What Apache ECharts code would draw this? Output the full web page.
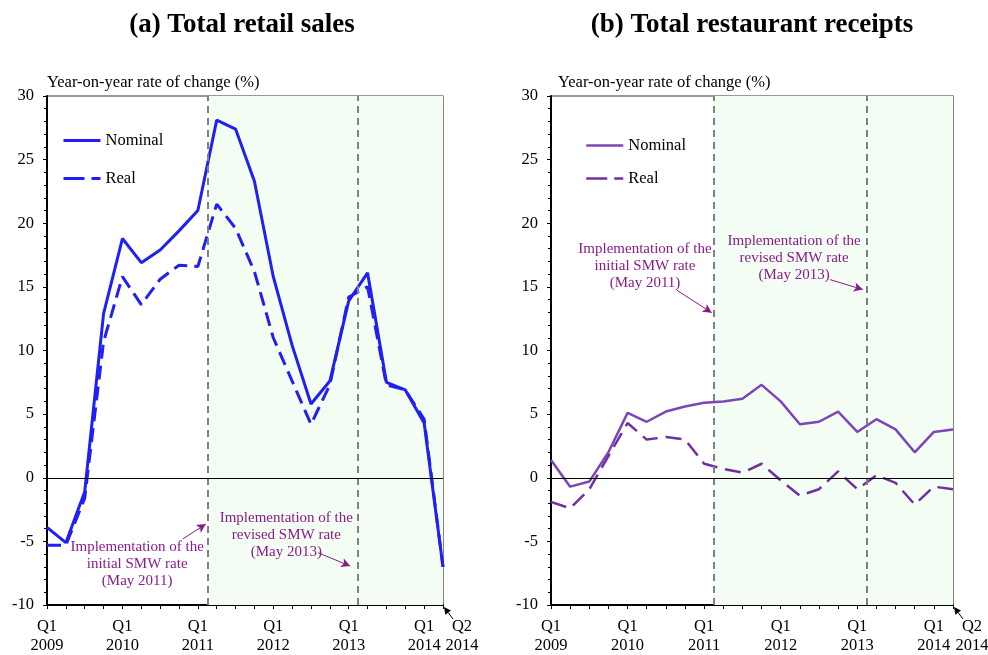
<!DOCTYPE html>
<html>
<head>
<meta charset="utf-8">
<script src="https://cdn.jsdelivr.net/npm/echarts@6/dist/echarts.min.js"></script>
<style>
  html, body { margin: 0; padding: 0; background: #fff; }
  #wrap { position: relative; width: 988px; height: 655px; }
  #panelA { position: absolute; left: 0; top: 0; width: 494px; height: 655px; }
  #panelB { position: absolute; left: 494px; top: 0; width: 494px; height: 655px; }
</style>
</head>
<body>
<div id="wrap"><div id="panelA"></div><div id="panelB"></div></div>
<script>
// Quarters Q1 2009 .. Q2 2014 (index 0..21)
const quarters = [
  'Q1 2009','Q2 2009','Q3 2009','Q4 2009',
  'Q1 2010','Q2 2010','Q3 2010','Q4 2010',
  'Q1 2011','Q2 2011','Q3 2011','Q4 2011',
  'Q1 2012','Q2 2012','Q3 2012','Q4 2012',
  'Q1 2013','Q2 2013','Q3 2013','Q4 2013',
  'Q1 2014','Q2 2014'
];

// (a) Total retail sales, year-on-year % change
const retailNominal = [-3.9, -5.1, -1.1, 12.9, 18.8, 16.9, 17.9, 19.4, 21.0, 28.1, 27.4, 23.3,
                       15.8, 10.4, 5.8, 7.6, 13.9, 16.1, 7.5, 6.9, 4.3, -7.0];
const retailReal    = [-5.3, -5.3, -1.6, 10.7, 15.8, 13.6, 15.6, 16.7, 16.6, 21.5, 19.6, 16.2,
                       11.0, 7.6, 4.2, 7.3, 14.2, 15.0, 7.3, 6.9, 4.6, -7.0];

// (b) Total restaurant receipts, year-on-year % change
const restNominal = [1.4, -0.7, -0.3, 2.0, 5.1, 4.4, 5.2, 5.6, 5.9, 6.0, 6.2, 7.3,
                     6.0, 4.2, 4.4, 5.2, 3.6, 4.6, 3.8, 2.0, 3.6, 3.8];
const restReal    = [-1.9, -2.4, -0.9, 1.7, 4.3, 3.0, 3.2, 3.0, 1.1, 0.7, 0.4, 1.1,
                     -0.2, -1.4, -0.9, 0.5, -0.9, 0.2, -0.4, -2.1, -0.7, -0.9];

// Value axis ticks
const yMin = -10, yMax = 30, yStep = 5;

// SMW implementation dates on the quarter scale (May 2011, May 2013)
const smwInitial = 8.5;
const smwRevised = 16.5;

const SERIF = "'Liberation Serif', 'Times New Roman', serif";
const NOTE_COLOR = '#8a1c8a';

function pairs(values) {
  return values.map((v, i) => [i, v]);
}

function xLabel(v) {
  if (v % 4 === 0 && v < quarters.length - 1) {
    const parts = quarters[v].split(' ');
    return parts[0] + '\n' + parts[1];
  }
  return '';
}

function buildPanel(cfg) {
  const notes = cfg.notes;
  return {
    animation: false,
    grid: {
      left: cfg.gridLeft, right: cfg.gridRight, top: 96, bottom: 46,
      show: true, borderColor: '#333', borderWidth: 1.2, backgroundColor: 'transparent'
    },
    legend: {
      data: [
        { name: 'Nominal', itemStyle: { opacity: 0 },
          lineStyle: { type: 'solid', width: cfg.lineWidth, color: cfg.nominalColor } },
        { name: 'Real', itemStyle: { opacity: 0 },
          lineStyle: { type: [21, 7], width: cfg.lineWidth, color: cfg.realColor } }
      ],
      orient: 'vertical',
      left: cfg.legendLeft, top: cfg.legendTop,
      itemWidth: 37, itemHeight: 14, itemGap: cfg.legendGap,
      textStyle: { fontFamily: SERIF, fontSize: 16.5, color: '#000' },
      selectedMode: false
    },
    xAxis: {
      type: 'value', min: 0, max: quarters.length - 1, interval: 1,
      axisLine: { show: true, onZero: false, lineStyle: { color: '#000', width: 2 } },
      axisTick: { show: true, length: 4, lineStyle: { color: '#000', width: 1 } },
      splitLine: { show: false },
      axisLabel: {
        formatter: xLabel, margin: 12, color: '#000',
        fontFamily: SERIF, fontSize: 16.5, lineHeight: 19
      }
    },
    yAxis: {
      type: 'value', min: yMin, max: yMax, interval: yStep,
      name: 'Year-on-year rate of change (%)',
      nameLocation: 'end', nameGap: 13,
      nameTextStyle: {
        align: 'left', verticalAlign: 'middle', color: '#000',
        fontFamily: SERIF, fontSize: 16.5, padding: [0, 0, 0, cfg.namePad]
      },
      axisLine: { show: true, lineStyle: { color: '#000', width: 2 } },
      axisTick: { show: true, length: 4, lineStyle: { color: '#000', width: 1 } },
      minorTick: { show: true, splitNumber: 5, length: 3, lineStyle: { color: '#000', width: 1 } },
      splitLine: { show: false },
      minorSplitLine: { show: false },
      axisLabel: { margin: 13, color: '#000', fontFamily: SERIF, fontSize: 16.5 }
    },
    series: [
      {
        // shaded post-SMW period, SMW date lines and zero line
        name: 'bands', type: 'line', data: [], z: 1, silent: true,
        markArea: {
          silent: true,
          itemStyle: { color: '#f3fdf3' },
          data: [[{ xAxis: smwInitial }, { xAxis: quarters.length - 1 }]]
        },
        markLine: {
          silent: true, symbol: ['none', 'none'], label: { show: false },
          lineStyle: { color: '#808080', type: [7, 5], width: 2 },
          data: [
            { xAxis: smwInitial },
            { xAxis: smwRevised },
            { yAxis: 0, lineStyle: { color: '#000', type: 'solid', width: 1 } }
          ]
        }
      },
      {
        // annotation arrows and captions
        name: 'notes', type: 'line', data: [], z: 4, silent: true,
        markLine: {
          silent: true, symbol: ['none', 'arrow'], symbolSize: [7, 9],
          label: { show: false },
          lineStyle: { color: NOTE_COLOR, type: 'solid', width: 1 },
          data: notes.map(n => [{ coord: n.from }, { coord: n.to }])
        },
        markPoint: {
          silent: true, symbol: 'rect', symbolSize: 1,
          itemStyle: { color: 'rgba(0,0,0,0)' },
          label: {
            show: true, position: 'inside', color: NOTE_COLOR,
            fontFamily: SERIF, fontSize: 15, lineHeight: 17, align: 'center',
            formatter: p => p.name
          },
          data: notes.map(n => ({ name: n.text, coord: n.at }))
        }
      },
      {
        name: 'Nominal', type: 'line', z: 3, symbol: 'none',
        data: pairs(cfg.nominal),
        lineStyle: { color: cfg.nominalColor, width: cfg.lineWidth, type: 'solid' },
        itemStyle: { color: cfg.nominalColor }
      },
      {
        name: 'Real', type: 'line', z: 3, symbol: 'none',
        data: pairs(cfg.real),
        lineStyle: { color: cfg.realColor, width: cfg.lineWidth, type: cfg.dash },
        itemStyle: { color: cfg.realColor }
      }
    ],
    graphic: [{
      id: 'panelTitle', type: 'text', x: cfg.titleX, y: 25,
      style: {
        text: cfg.title, textAlign: 'center', textVerticalAlign: 'middle',
        font: 'bold 27px ' + SERIF, fill: '#000'
      }
    }]
  };
}

// Last-quarter label pointing at the axis end
function addEndLabel(chart) {
  const last = quarters.length - 1;
  const c = chart.convertToPixel({ xAxisIndex: 0, yAxisIndex: 0 }, [last, yMin]);
  const parts = quarters[last].split(' ');
  const tail = [c[0] + 10, c[1] + 14];
  const tip = [c[0] + 1, c[1] + 2];
  const dx = tip[0] - tail[0], dy = tip[1] - tail[1];
  const len = Math.hypot(dx, dy);
  const ux = dx / len, uy = dy / len;
  const bx = tip[0] - ux * 7, by = tip[1] - uy * 7;
  const nx = -uy * 3.5, ny = ux * 3.5;
  chart.setOption({
    graphic: [
      {
        id: 'endLabel', type: 'text', x: c[0] + 19, y: c[1] + 12,
        style: {
          text: parts[0] + '\n' + parts[1], textAlign: 'center', textVerticalAlign: 'top',
          font: '16.5px ' + SERIF, lineHeight: 19, fill: '#000'
        }
      },
      {
        id: 'endArrowLine', type: 'line', shape: { x1: tail[0], y1: tail[1], x2: bx, y2: by },
        style: { stroke: '#000', lineWidth: 1 }
      },
      {
        id: 'endArrowHead', type: 'polygon',
        shape: { points: [tip, [bx + nx, by + ny], [bx - nx, by - ny]] },
        style: { fill: '#000' }
      }
    ]
  });
}

const chartA = echarts.init(document.getElementById('panelA'), null, { renderer: 'canvas' });
chartA.setOption(buildPanel({
  title: '(a) Total retail sales', titleX: 242,
  gridLeft: 47, gridRight: 51, namePad: 0,
  legendLeft: 57, legendTop: 127, legendGap: 21,
  nominal: retailNominal, real: retailReal,
  nominalColor: '#2020f5', realColor: '#2020f5', lineWidth: 3, dash: [14, 7],
  notes: [
    { text: 'Implementation of the\ninitial SMW rate\n(May 2011)', at: [4.78, -6.78],
      from: [7.2, -4.81], to: [8.42, -3.64] },
    { text: 'Implementation of the\nrevised SMW rate\n(May 2013)', at: [12.69, -4.52],
      from: [14.38, -5.9], to: [16.08, -6.94] }
  ]
}));
addEndLabel(chartA);

const chartB = echarts.init(document.getElementById('panelB'), null, { renderer: 'canvas' });
chartB.setOption(buildPanel({
  title: '(b) Total restaurant receipts', titleX: 258,
  gridLeft: 57, gridRight: 35, namePad: 7,
  legendLeft: 86, legendTop: 132, legendGap: 16,
  nominal: restNominal, real: restReal,
  nominalColor: '#7d45b8', realColor: '#7030a0', lineWidth: 2.5, dash: [16, 8],
  notes: [
    { text: 'Implementation of the\ninitial SMW rate\n(May 2011)', at: [4.91, 16.6],
      from: [6.57, 14.74], to: [8.4, 12.97] },
    { text: 'Implementation of the\nrevised SMW rate\n(May 2013)', at: [12.7, 17.3],
      from: [14.58, 15.57], to: [16.29, 14.79] }
  ]
}));
addEndLabel(chartB);
</script>
</body>
</html>
